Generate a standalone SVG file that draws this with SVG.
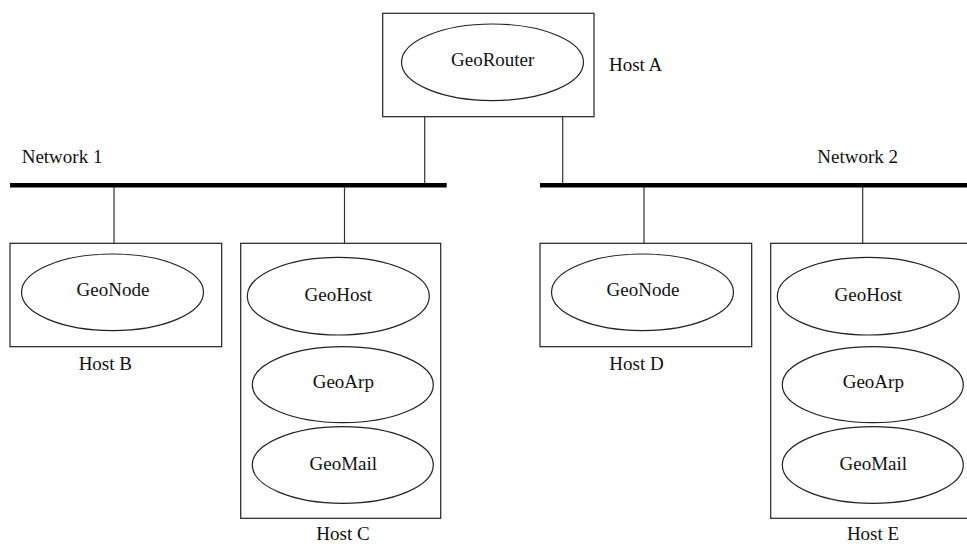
<svg xmlns="http://www.w3.org/2000/svg" width="967" height="544" viewBox="0 0 967 544">
<style>
.box{fill:#fff;stroke:#222;stroke-width:1.2}
.el{fill:#fff;stroke:#222;stroke-width:1.2}
.t{font-family:"Liberation Serif","Times New Roman",serif;font-size:19px;fill:#111;text-anchor:middle}
.ts{font-family:"Liberation Serif","Times New Roman",serif;font-size:19px;fill:#111}
.ln{stroke:#333;stroke-width:1.2;fill:none}
.bar{stroke:#000;stroke-width:4.5;fill:none}
</style>
<rect width="967" height="544" fill="#fff"/>
<g id="connectors">
<line class="bar" x1="10" y1="185.3" x2="446.7" y2="185.3"/>
<line class="bar" x1="540" y1="185.3" x2="967" y2="185.3"/>
<line class="ln" x1="424.7" y1="117" x2="424.7" y2="183"/>
<line class="ln" x1="562.7" y1="117" x2="562.7" y2="183"/>
<line class="ln" x1="114" y1="187" x2="114" y2="243.3"/>
<line class="ln" x1="344.5" y1="187" x2="344.5" y2="243.3"/>
<line class="ln" x1="644" y1="187" x2="644" y2="243.3"/>
<line class="ln" x1="862.7" y1="187" x2="862.7" y2="243.3"/>
</g>
<g id="network1"><text class="ts" x="21.7" y="162.7">Network 1</text></g>
<g id="network2"><text class="ts" x="817.3" y="162.7">Network 2</text></g>
<g id="hostA">
<rect class="box" x="382.7" y="13.3" width="211.3" height="103.4"/>
<ellipse class="el" cx="492.5" cy="62.3" rx="91" ry="38.3"/>
<text class="t" x="492.7" y="65.5">GeoRouter</text>
<text class="ts" x="609" y="71">Host A</text>
</g>
<g id="hostB">
<rect class="box" x="10" y="243.3" width="211.7" height="103.4"/>
<ellipse class="el" cx="112.5" cy="292.3" rx="91" ry="38.3"/>
<text class="t" x="113" y="295.5">GeoNode</text>
<text class="t" x="105.3" y="370">Host B</text>
</g>
<g id="hostC">
<rect class="box" x="240.7" y="243.3" width="200" height="275"/>
<ellipse class="el" cx="338.3" cy="296.2" rx="91" ry="38.8"/>
<text class="t" x="338.3" y="300.7">GeoHost</text>
<ellipse class="el" cx="342.8" cy="384.7" rx="90.5" ry="38"/>
<text class="t" x="343.3" y="388">GeoArp</text>
<ellipse class="el" cx="342.8" cy="465" rx="90.5" ry="38.3"/>
<text class="t" x="343.3" y="469.5">GeoMail</text>
<text class="t" x="343" y="540">Host C</text>
</g>
<g id="hostD">
<rect class="box" x="540" y="243.3" width="211.7" height="103.4"/>
<ellipse class="el" cx="642.5" cy="292.3" rx="91" ry="38.3"/>
<text class="t" x="643" y="295.5">GeoNode</text>
<text class="t" x="636.5" y="370">Host D</text>
</g>
<g id="hostE">
<rect class="box" x="770.7" y="243.3" width="200" height="275"/>
<ellipse class="el" cx="868.3" cy="296.2" rx="91" ry="38.8"/>
<text class="t" x="868.3" y="300.7">GeoHost</text>
<ellipse class="el" cx="872.8" cy="384.7" rx="90.5" ry="38"/>
<text class="t" x="873.3" y="388">GeoArp</text>
<ellipse class="el" cx="872.8" cy="465" rx="90.5" ry="38.3"/>
<text class="t" x="873.3" y="469.5">GeoMail</text>
<text class="t" x="873" y="540">Host E</text>
</g>
</svg>
